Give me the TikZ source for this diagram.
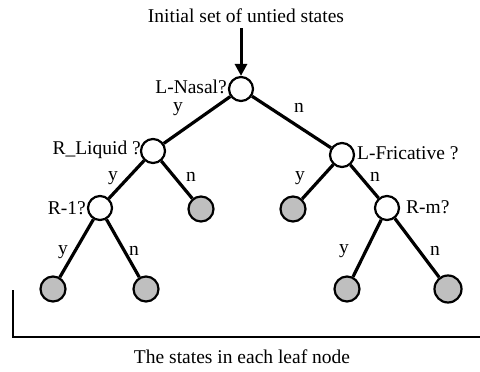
\documentclass[tikz,border=0pt]{standalone}
\usepackage{fontspec}
\setmainfont{Liberation Serif}
\usetikzlibrary{arrows.meta}
\begin{document}
\begin{tikzpicture}[x=1pt,y=-1pt,
  qnode/.style={circle,draw,line width=2.2pt,fill=white,minimum size=24pt,inner sep=0pt},
  leafnode/.style={circle,draw,line width=2.2pt,fill=black!25,minimum size=25pt,inner sep=0pt},
  lbl/.style={inner sep=0pt,font=\fontsize{19.5}{21}\selectfont},
  edge/.style={line width=3.2pt}]
\useasboundingbox (0,0) rectangle (480,372);
% texts
\node[lbl] (top) at (246,16) {Initial set of untied states};
\node[lbl] (bottom) at (242,357) {The states in each leaf node};
% nodes
\node[qnode] (root) at (241,89) {};
\node[qnode] (rl) at (153,151) {};
\node[qnode] (lf) at (342,155) {};
\node[qnode] (r1) at (100,208) {};
\node[leafnode] (l2) at (201,209) {};
\node[leafnode] (l3) at (293,209) {};
\node[qnode] (rm) at (387,208) {};
\node[leafnode] (l4) at (53,289) {};
\node[leafnode] (l5) at (146,289) {};
\node[leafnode] (l6) at (347,289) {};
\node[leafnode,minimum size=27pt] (l7) at (448,289) {};
% edges
\draw[edge] (root) -- (rl);
\draw[edge] (root) -- (lf);
\draw[edge] (rl) -- (r1);
\draw[edge] (rl) -- (l2);
\draw[edge] (lf) -- (l3);
\draw[edge] (lf) -- (rm);
\draw[edge] (r1) -- (l4);
\draw[edge] (r1) -- (l5);
\draw[edge] (rm) -- (l6);
\draw[edge] (rm) -- (l7);
% input arrow
\coordinate (astart) at (241,28);
\draw[line width=3pt,-{Triangle[length=12pt,width=12pt]}] (astart) -- (root.north);
% question labels
\node[lbl,anchor=east] (qa) at (227,87) {L-Nasal?};
\node[lbl,anchor=east] (qb) at (141,150) {R\_Liquid ?};
\node[lbl,anchor=west] (qc) at (357,153) {L-Fricative ?};
\node[lbl,anchor=east] (qd) at (86,208) {R-1?};
\node[lbl,anchor=west] (qe) at (406,207) {R-m?};
% y/n labels
\node[lbl] (y1) at (178,109) {y};
\node[lbl] (n1) at (299,108) {n};
\node[lbl] (y2) at (113,178) {y};
\node[lbl] (n2) at (191,177) {n};
\node[lbl] (y3) at (300,178) {y};
\node[lbl] (n3) at (375,177) {n};
\node[lbl] (y4) at (63,252) {y};
\node[lbl] (n4) at (134,251) {n};
\node[lbl] (y5) at (344,251) {y};
\node[lbl] (n5) at (435,251) {n};
% bracket
\coordinate (b1) at (13,290);
\coordinate (b2) at (13,337);
\coordinate (b3) at (480,337);
\draw[line width=2.4pt] (b1) -- (b2) -- (b3);
\end{tikzpicture}
\end{document}
